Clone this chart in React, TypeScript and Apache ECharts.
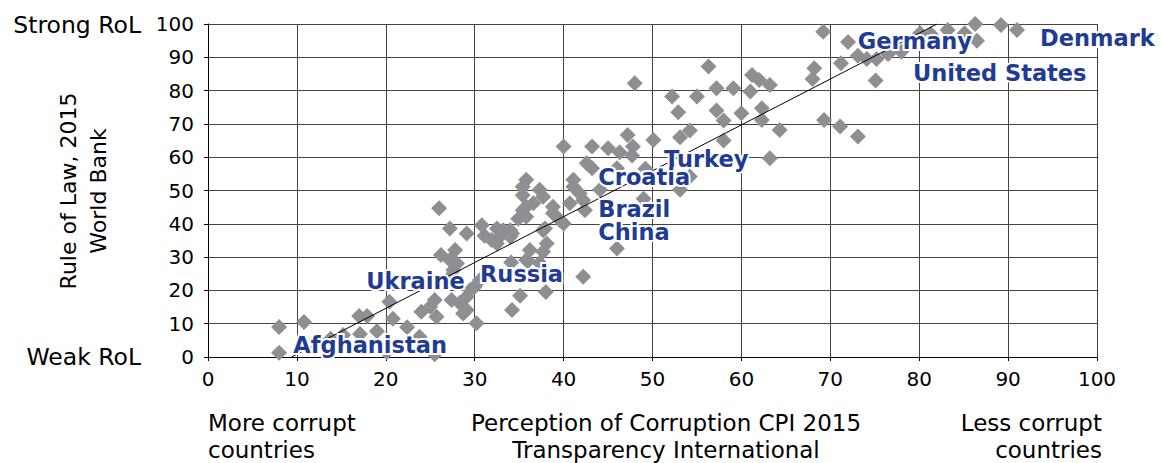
import React, { useEffect, useRef } from "react";
import * as echarts from "echarts";

// Perception of Corruption (CPI 2015) vs Rule of Law (World Bank 2015)
const cpi = [
  8, 8, 10.8, 13.8, 15.2, 17, 17.9, 17.1, 19, 20.1, 20.4, 20.8, 22.4, 23.8, 24, 25, 25.5, 25.5, 25.7,
  26, 26.2, 27.2, 27.2, 27.6, 27.8, 27.4, 28, 27.4, 28.3, 29.1, 29.1, 29.1, 29.5, 30.2, 30, 30.6, 28.7,
  30.8, 31.1, 31.9, 32.5, 32.8, 32.5, 33.2, 34, 34, 34.2, 34.1, 34.2, 35.1, 35.4, 35.8, 35.4, 37.3, 37.7,
  36.6, 35.8, 35.4, 35.8, 34.9, 38.8, 38.8, 39.6, 37.7, 37.9, 38.1, 37.7, 36.2, 35.8, 36, 37.3, 38,
  40, 40, 40.7, 41.1, 41.8, 42.4, 41.1, 42.2, 42.6, 42.2, 43.2, 43.2, 44.1, 45, 46.3, 46, 46, 47.2,
  47.8, 47.7, 48, 49.2, 49, 50.1, 52.2, 52.9, 53.1, 53.1, 54.2, 54.2, 55, 56.3, 57.2, 57.2, 58, 58,
  59.1, 60, 61.2, 62, 63.2, 61, 62.3, 62.3, 64.3, 63.2, 68.2, 68, 69.2, 69.3, 71.1, 71.2, 72, 73.1,
  73.1, 74.1, 75.2, 75.1, 76.5, 78, 80.1, 81.3, 83.2, 85.1, 86.3, 86.5, 89.2, 91
];
const rol = [
  9, 1.3, 10.5, 5.5, 6.6, 12.3, 12.3, 6.9, 7.7, 1.5, 16.6, 11.5, 8.9, 6.1, 13.6, 15.1, 0.8, 17.1, 12.1,
  44.7, 30.6, 38.6, 29.1, 26.1, 32.1, 17.1, 28.1, 24.5, 16.2, 37.1, 14.1, 18.1, 20.1, 10.1, 21.1, 23.1, 13.1,
  39.6, 36.4, 35.1, 38.6, 36.1, 34.1, 38.1, 38.1, 36.1, 37.1, 28.4, 14.1, 18.4, 48.6, 53.2, 51.1, 50.2, 48.1,
  46.2, 45.1, 44.1, 42.1, 41.5, 43.2, 45.1, 41.1, 38.1, 38.6, 34.1, 31.6, 32.1, 29.1, 28.8, 28.2, 19.5,
  63.2, 40.1, 46.2, 51.1, 49.1, 44.1, 53.2, 47.1, 58.2, 24.1, 63.2, 56.7, 50.2, 62.7, 61.5, 56.7, 32.6, 66.7,
  63.2, 60.5, 82.2, 56.5, 47.5, 65.2, 78.2, 73.5, 66, 50.2, 68, 54.2, 78.2, 87.2, 80.7, 74, 71, 65,
  80.7, 73.2, 84.7, 83.2, 81.7, 79.7, 74.7, 71.2, 68.2, 59.7, 86.7, 83.5, 97.7, 71.2, 69.2, 88.2, 94.6, 90.5,
  66.2, 89.5, 89.5, 83, 91, 91.7, 97.2, 97, 98.2, 97.2, 100, 95, 99.7, 98.2
];

// Trend line end points
const trendCpi = [9.4, 82];
const trendRol = [0, 100];

// Highlighted countries (label anchor = left edge of the text)
const labelNames = ["Afghanistan", "Ukraine", "Russia", "Croatia", "Brazil", "China", "Turkey", "Germany", "United States", "Denmark"];
const labelCpi = [9.6, 17.8, 30.6, 43.9, 43.9, 43.9, 51.3, 73.1, 79.3, 93.6];
const labelRol = [3.6, 22.8, 24.8, 54.0, 44.4, 37.4, 59.6, 94.8, 85.4, 95.9];

const FONT = '"DejaVu Sans", sans-serif';

export default function App() {
  const ref = useRef<HTMLDivElement>(null);
  useEffect(() => {
    document.body.style.margin = "0";
    const chart = echarts.init(ref.current!, null, { renderer: "svg" });
    const axisCommon = {
      type: "value",
      min: 0,
      max: 100,
      interval: 10,
      axisLine: { show: true, onZero: false, lineStyle: { color: "#000", width: 1 } },
      axisTick: { show: true, length: 4, lineStyle: { color: "#000" } },
      splitLine: { show: true, lineStyle: { color: "#444", width: 1 } },
    };
    const labelData = labelNames.map((n, i) => [labelCpi[i], labelRol[i], n]);
    const labelBase = {
      show: true,
      position: "right",
      distance: 0,
      opacity: 1,
      formatter: (p: any) => p.data[2],
      fontFamily: FONT,
      fontWeight: "bold",
      fontSize: 22.5,
    };
    chart.setOption({
      animation: false,
      backgroundColor: "#fff",
      grid: { left: 208, right: 64, top: 24, bottom: 106 },
      xAxis: {
        ...axisCommon,
        axisLabel: { color: "#000", fontSize: 20, fontFamily: FONT, margin: 12 },
      },
      yAxis: {
        ...axisCommon,
        axisLabel: { color: "#000", fontSize: 20, fontFamily: FONT, margin: 14 },
      },
      series: [
        {
          type: "scatter",
          data: cpi.map((x, i) => [x, rol[i]]),
          symbol: "diamond",
          symbolSize: 16,
          itemStyle: { color: "#8e8f92", opacity: 1 },
          silent: true,
          z: 2,
        },
        {
          type: "line",
          data: trendCpi.map((x, i) => [x, trendRol[i]]),
          symbol: "none",
          lineStyle: { color: "#000", width: 1 },
          silent: true,
          z: 3,
        },
        {
          // white halo under the country names
          type: "scatter",
          data: labelData,
          symbolSize: 0,
          itemStyle: { opacity: 1 },
          silent: true,
          z: 4,
          label: { ...labelBase, color: "#fff", textBorderColor: "#fff", textBorderWidth: 4 },
        },
        {
          type: "scatter",
          data: labelData,
          symbolSize: 0,
          itemStyle: { opacity: 1 },
          silent: true,
          z: 5,
          label: { ...labelBase, color: "#1f3b94" },
        },
      ],
      graphic: [
        {
          type: "text",
          x: 141,
          y: 25,
          style: { text: "Strong RoL", font: `23.5px ${FONT}`, fill: "#000", align: "right", verticalAlign: "middle", textAlign: "right", textVerticalAlign: "middle" },
        },
        {
          type: "text",
          x: 141,
          y: 357,
          style: { text: "Weak RoL", font: `23.5px ${FONT}`, fill: "#000", align: "right", verticalAlign: "middle", textAlign: "right", textVerticalAlign: "middle" },
        },
        {
          type: "text",
          x: 83,
          y: 191,
          rotation: Math.PI / 2,
          style: { text: "Rule of Law, 2015\nWorld Bank", font: `22px ${FONT}`, fill: "#000", lineHeight: 30, align: "center", verticalAlign: "middle", textAlign: "center", textVerticalAlign: "middle" },
        },
        {
          type: "text",
          x: 208,
          y: 409,
          style: { text: "More corrupt\ncountries", font: `23px ${FONT}`, fill: "#000", lineHeight: 27, align: "left", verticalAlign: "top", textAlign: "left", textVerticalAlign: "top" },
        },
        {
          type: "text",
          x: 666,
          y: 409,
          style: { text: "Perception of Corruption CPI 2015\nTransparency International", font: `23px ${FONT}`, fill: "#000", lineHeight: 27, align: "center", verticalAlign: "top", textAlign: "center", textVerticalAlign: "top" },
        },
        {
          type: "text",
          x: 1102,
          y: 409,
          style: { text: "Less corrupt\ncountries", font: `23px ${FONT}`, fill: "#000", lineHeight: 27, align: "right", verticalAlign: "top", textAlign: "right", textVerticalAlign: "top" },
        },
      ],
    });
    return () => chart.dispose();
  }, []);
  return <div ref={ref} style={{ width: 1161, height: 463 }} />;
}
